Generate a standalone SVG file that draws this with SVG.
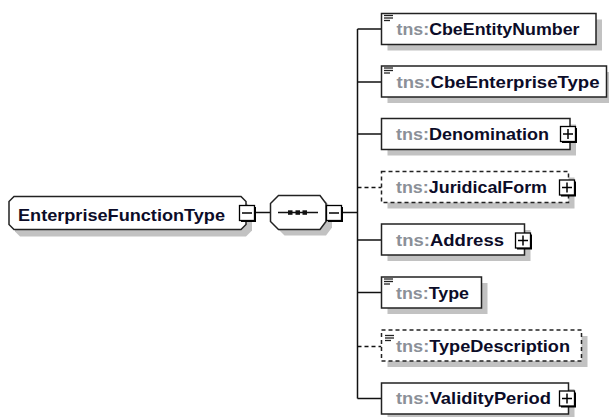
<svg xmlns="http://www.w3.org/2000/svg" width="609" height="417" viewBox="0 0 609 417">
<defs>
<style>
.bx{fill:#fff;stroke:#222;stroke-width:1.5}
.dbx{fill:#fff;stroke:#222;stroke-width:1.5;stroke-dasharray:4 3}
.sh{fill:#c2c2c2}
.ln{stroke:#111;stroke-width:1.5;fill:none}
.dln{stroke:#111;stroke-width:1.5;fill:none;stroke-dasharray:4 3}
.t{font-family:"Liberation Sans",Arial,sans-serif;font-weight:bold;font-size:17px;fill:#0c0c28}
.p{fill:#8b9098}
.ic{stroke:#222;stroke-width:1.3}
.pbs{fill:#000}
.pb{fill:#fff;stroke:#000;stroke-width:1.3}
.pm{stroke:#000;stroke-width:1.5}
</style>
<g id="plus">
<rect class="pbs" x="2" y="2" width="15" height="15"/>
<rect class="pb" x="0.5" y="0.5" width="15" height="15"/>
<line class="pm" x1="3" y1="8" x2="13" y2="8"/>
<line class="pm" x1="8" y1="3" x2="8" y2="13"/>
</g>
<g id="minus">
<rect class="pbs" x="2" y="2" width="15" height="15"/>
<rect class="pb" x="0.5" y="0.5" width="15" height="15"/>
<line class="pm" x1="3" y1="8" x2="13" y2="8"/>
</g>
<g id="icon">
<line class="ic" x1="0" y1="0.5" x2="9" y2="0.5"/>
<line class="ic" x1="0" y1="3" x2="9" y2="3"/>
<line class="ic" x1="0" y1="5.5" x2="6" y2="5.5"/>
</g>
</defs>
<rect width="609" height="417" fill="#fff"/>

<g id="connectors">
<line class="ln" x1="255" y1="212.5" x2="270.5" y2="212.5"/>
<line class="ln" x1="342" y1="212.5" x2="357.5" y2="212.5"/>
<line class="ln" x1="357.5" y1="29" x2="357.5" y2="398.5"/>
<line class="ln" x1="357.5" y1="29" x2="381.5" y2="29"/>
<line class="ln" x1="357.5" y1="82" x2="381.5" y2="82"/>
<line class="ln" x1="357.5" y1="134" x2="381.5" y2="134"/>
<line class="dln" x1="357.5" y1="187.5" x2="381.5" y2="187.5"/>
<line class="ln" x1="357.5" y1="240" x2="381.5" y2="240"/>
<line class="ln" x1="357.5" y1="292.5" x2="381.5" y2="292.5"/>
<line class="dln" x1="357.5" y1="346.5" x2="381.5" y2="346.5"/>
<line class="ln" x1="357.5" y1="398.5" x2="381.5" y2="398.5"/>
</g>

<g id="root">
<polygon class="sh" points="20,202.5 246,202.5 252,208.5 252,230.5 246,236.5 20,236.5 15,231.5 15,208.5"/>
<polygon class="bx" points="14,196.5 241,196.5 246,201.5 246,224.5 241,229.5 14,229.5 9,224.5 9,201.5"/>
<text class="t" x="18" y="221" textLength="207" lengthAdjust="spacingAndGlyphs">EnterpriseFunctionType</text>
<use href="#minus" x="239" y="205"/>
</g>

<g id="sequence">
<polygon class="sh" points="284.5,201.5 326,201.5 332,209.5 332,227.5 326,235.5 284.5,235.5 276.5,227.5 276.5,209.5"/>
<polygon class="bx" points="278.5,195.5 320,195.5 326,203.5 326,221.5 320,229.5 278.5,229.5 270.5,221.5 270.5,203.5"/>
<line class="ln" x1="278" y1="212.5" x2="318" y2="212.5"/>
<rect x="288" y="210.3" width="4.5" height="4.5" fill="#111"/>
<rect x="295.5" y="210.3" width="4.5" height="4.5" fill="#111"/>
<rect x="302.5" y="210.3" width="4.5" height="4.5" fill="#111"/>
<use href="#minus" x="326" y="205"/>
</g>

<g id="CbeEntityNumber">
<rect class="sh" x="387.5" y="19.5" width="214.5" height="31"/>
<rect class="bx" x="381.5" y="13.5" width="214.5" height="31"/>
<use href="#icon" x="384" y="15"/>
<text class="t" x="396.5" y="34.5" textLength="183" lengthAdjust="spacingAndGlyphs"><tspan class="p">tns:</tspan>CbeEntityNumber</text>
</g>

<g id="CbeEnterpriseType">
<rect class="sh" x="387.5" y="72" width="225" height="31"/>
<rect class="bx" x="381.5" y="66" width="225" height="31"/>
<use href="#icon" x="384" y="67.5"/>
<text class="t" x="396.5" y="87.5" textLength="203" lengthAdjust="spacingAndGlyphs"><tspan class="p">tns:</tspan>CbeEnterpriseType</text>
</g>

<g id="Denomination">
<rect class="sh" x="387.5" y="124.5" width="188.5" height="31"/>
<rect class="bx" x="381.5" y="118.5" width="188.5" height="31"/>
<text class="t" x="396" y="140" textLength="153" lengthAdjust="spacingAndGlyphs"><tspan class="p">tns:</tspan>Denomination</text>
<use href="#plus" x="560" y="126"/>
</g>

<g id="JuridicalForm">
<rect class="sh" x="387.5" y="177.5" width="187" height="31"/>
<rect class="dbx" x="381.5" y="171.5" width="187" height="31"/>
<text class="t" x="396" y="193" textLength="151" lengthAdjust="spacingAndGlyphs"><tspan class="p">tns:</tspan>JuridicalForm</text>
<use href="#plus" x="559" y="179.5"/>
</g>

<g id="Address">
<rect class="sh" x="387.5" y="230" width="143" height="31"/>
<rect class="bx" x="381.5" y="224" width="143" height="31"/>
<text class="t" x="396" y="246" textLength="108" lengthAdjust="spacingAndGlyphs"><tspan class="p">tns:</tspan>Address</text>
<use href="#plus" x="515" y="232.5"/>
</g>

<g id="Type">
<rect class="sh" x="387.5" y="283" width="100" height="31"/>
<rect class="bx" x="381.5" y="277" width="100" height="31"/>
<use href="#icon" x="384" y="278.5"/>
<text class="t" x="396" y="298.5" textLength="73" lengthAdjust="spacingAndGlyphs"><tspan class="p">tns:</tspan>Type</text>
</g>

<g id="TypeDescription">
<rect class="sh" x="387.5" y="336" width="200" height="31"/>
<rect class="dbx" x="381.5" y="330" width="200" height="31"/>
<use href="#icon" x="385" y="335"/>
<text class="t" x="396" y="351.5" textLength="174" lengthAdjust="spacingAndGlyphs"><tspan class="p">tns:</tspan>TypeDescription</text>
</g>

<g id="ValidityPeriod">
<rect class="sh" x="387.5" y="389" width="187" height="31"/>
<rect class="bx" x="381.5" y="383" width="187" height="31"/>
<text class="t" x="396" y="404" textLength="155" lengthAdjust="spacingAndGlyphs"><tspan class="p">tns:</tspan>ValidityPeriod</text>
<use href="#plus" x="559" y="390.5"/>
</g>
</svg>
